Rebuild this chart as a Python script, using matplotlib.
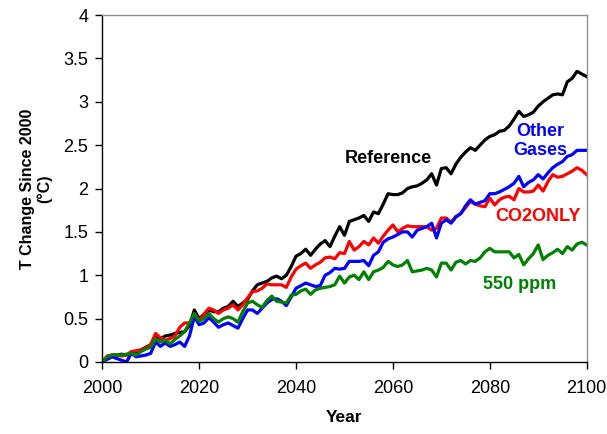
import matplotlib
matplotlib.use("Agg")
import matplotlib.pyplot as plt
import numpy as np

plt.rcParams['font.family'] = ['Liberation Sans', 'DejaVu Sans']

years = list(range(2000, 2101))

reference = [
    0.00, 0.05, 0.08, 0.08, 0.09, 0.08, 0.10, 0.12, 0.14, 0.17,
    0.20, 0.30, 0.27, 0.30, 0.31, 0.33, 0.34, 0.35, 0.42, 0.60,
    0.50, 0.55, 0.60, 0.58, 0.58, 0.62, 0.64, 0.70, 0.64, 0.68,
    0.72, 0.82, 0.89, 0.91, 0.93, 0.97, 0.99, 0.96, 1.00, 1.10,
    1.22, 1.25, 1.30, 1.23, 1.30, 1.36, 1.40, 1.33, 1.45, 1.56,
    1.46, 1.62, 1.64, 1.66, 1.69, 1.62, 1.73, 1.71, 1.82, 1.94,
    1.93, 1.93, 1.95, 2.00, 2.02, 2.03, 2.06, 2.10, 2.17, 2.04,
    2.23, 2.24, 2.17, 2.28, 2.36, 2.42, 2.47, 2.44, 2.50, 2.56,
    2.60, 2.62, 2.66, 2.67, 2.72, 2.80, 2.89, 2.83, 2.85, 2.88,
    2.95, 3.00, 3.04, 3.08, 3.09, 3.08, 3.23, 3.27, 3.35, 3.32,
    3.29,
]

co2_only = [
    0.00, 0.07, 0.08, 0.08, 0.07, 0.08, 0.12, 0.13, 0.14, 0.16,
    0.20, 0.33, 0.28, 0.25, 0.27, 0.30, 0.40, 0.45, 0.45, 0.55,
    0.48, 0.55, 0.62, 0.60, 0.56, 0.60, 0.62, 0.66, 0.60, 0.66,
    0.74, 0.81, 0.82, 0.85, 0.90, 0.89, 0.89, 0.89, 0.86, 0.98,
    1.07, 1.11, 1.14, 1.08, 1.12, 1.15, 1.20, 1.21, 1.19, 1.26,
    1.25, 1.39, 1.29, 1.33, 1.39, 1.35, 1.43, 1.37, 1.45, 1.52,
    1.58, 1.50, 1.54, 1.57, 1.56, 1.56, 1.56, 1.56, 1.52, 1.54,
    1.66, 1.66, 1.61, 1.68, 1.71, 1.78, 1.85, 1.82, 1.80, 1.79,
    1.89, 1.81, 1.87, 1.90, 1.91, 1.87, 2.00, 1.96, 1.96, 1.97,
    2.04, 1.97, 2.08, 2.16, 2.13, 2.14, 2.17, 2.20, 2.24, 2.21,
    2.16,
]

other_gases = [
    0.00, 0.03, 0.06, 0.04, 0.02, 0.00, 0.10, 0.06, 0.07, 0.08,
    0.10, 0.23, 0.18, 0.22, 0.18, 0.20, 0.23, 0.18, 0.30, 0.52,
    0.43, 0.45, 0.51, 0.46, 0.40, 0.43, 0.45, 0.42, 0.39, 0.50,
    0.60, 0.60, 0.56, 0.62, 0.68, 0.72, 0.73, 0.70, 0.65, 0.75,
    0.85, 0.88, 0.91, 0.89, 0.87, 0.88, 1.00, 1.03, 1.08, 1.07,
    1.08, 1.16, 1.16, 1.16, 1.17, 1.11, 1.23, 1.27, 1.38, 1.42,
    1.44, 1.47, 1.50, 1.50, 1.44, 1.52, 1.54, 1.56, 1.60, 1.43,
    1.60, 1.64, 1.60, 1.67, 1.71, 1.80, 1.87, 1.82, 1.84, 1.86,
    1.94, 1.94, 1.96, 1.99, 2.02, 2.06, 2.14, 2.02, 2.07, 2.10,
    2.16, 2.11, 2.18, 2.24, 2.28, 2.31, 2.37, 2.39, 2.44, 2.44,
    2.44,
]

ppm_550 = [
    0.00, 0.06, 0.08, 0.08, 0.08, 0.09, 0.10, 0.08, 0.12, 0.15,
    0.17, 0.27, 0.23, 0.25, 0.21, 0.26, 0.30, 0.35, 0.45, 0.56,
    0.47, 0.50, 0.56, 0.50, 0.46, 0.50, 0.52, 0.50, 0.46, 0.58,
    0.68, 0.70, 0.66, 0.63, 0.71, 0.76, 0.70, 0.69, 0.68, 0.77,
    0.78, 0.82, 0.84, 0.78, 0.83, 0.85, 0.86, 0.87, 0.89, 0.99,
    0.91, 0.98, 1.00, 0.95, 1.04, 0.95, 1.04, 1.06, 1.09, 1.16,
    1.12, 1.10, 1.12, 1.17, 1.04, 1.05, 1.06, 1.08, 1.06, 0.98,
    1.14, 1.14, 1.06, 1.15, 1.17, 1.13, 1.17, 1.16, 1.20, 1.27,
    1.31, 1.27, 1.27, 1.27, 1.27, 1.20, 1.24, 1.12, 1.19, 1.25,
    1.35, 1.18, 1.23, 1.26, 1.30, 1.25, 1.33, 1.29, 1.36, 1.38,
    1.35,
]

x_ticks = [2000, 2020, 2040, 2060, 2080, 2100]
y_ticks = [0, 0.5, 1, 1.5, 2, 2.5, 3, 3.5, 4]
y_tick_labels = ['0', '0.5', '1', '1.5', '2', '2.5', '3', '3.5', '4']

fig = plt.figure(figsize=(6.07, 4.34), dpi=100)
ax = fig.add_axes([0.1685, 0.1659, 0.798, 0.7995])

lw = 2.3
ax.plot(years, reference, color='black', lw=lw)
ax.plot(years, co2_only, color='#ff0000', lw=lw)
ax.plot(years, other_gases, color='#0000ff', lw=lw)
ax.plot(years, ppm_550, color='#008000', lw=lw)

ax.set_xlim(2000, 2100)
ax.set_ylim(0, 4)
ax.set_xticks(x_ticks)
ax.set_xticklabels([str(t) for t in x_ticks])
ax.set_yticks(y_ticks)
ax.set_yticklabels(y_tick_labels)
ax.tick_params(axis='both', direction='out', length=5, width=1,
               labelsize=13, colors='black')
ax.tick_params(axis='x', pad=8)
ax.tick_params(axis='y', pad=5)

for side in ('left', 'bottom'):
    ax.spines[side].set_color('black')
    ax.spines[side].set_linewidth(1)
for side in ('top', 'right'):
    ax.spines[side].set_color('#909090')
    ax.spines[side].set_linewidth(1)

ax.set_xlabel('Year', fontsize=12.5, fontweight='bold', labelpad=9)
ax.set_ylabel('T Change Since 2000\n(°C)', fontsize=11.5, fontweight='bold',
              labelpad=8, linespacing=1.1)

ax.text(2059, 2.35, 'Reference', color='black', fontsize=13,
        fontweight='bold', ha='center', va='center')
ax.text(2090.4, 2.55, 'Other\nGases', color='#0000ff', fontsize=13,
        fontweight='bold', ha='center', va='center', linespacing=1.15)
ax.text(2089.9, 1.68, 'CO2ONLY', color='#ff0000', fontsize=13,
        fontweight='bold', ha='center', va='center')
ax.text(2086.2, 0.89, '550 ppm', color='#008000', fontsize=13,
        fontweight='bold', ha='center', va='center')

fig.savefig('out.png', dpi=100)
